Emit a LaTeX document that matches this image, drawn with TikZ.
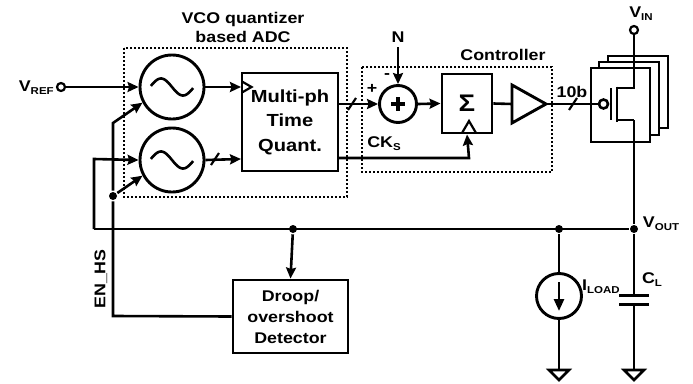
\documentclass[tikz,border=0pt]{standalone}
\usepackage{fontspec}
\setmainfont{Liberation Sans}[FakeStretch=1.15]
\usetikzlibrary{arrows.meta}
\newcommand{\fsz}[1]{\fontsize{#1}{#1}\selectfont}
\newcommand{\fszb}[2]{\fontsize{#1}{#2}\selectfont}
\newcommand{\lsb}[1]{\raisebox{-0.35ex}{\fontsize{10}{10}\selectfont #1}}
\begin{document}
\begin{tikzpicture}[x=1pt,y=-1pt, line width=2.6pt,
  arr/.style={-{Stealth[length=11pt,width=10pt,inset=1.5pt]}},
  lbl/.style={font=\bfseries\fsz{15.5}, inner sep=0},
  blk/.style={draw, line width=2.9pt, fill=white, inner sep=0, align=center},
  grp/.style={draw, line width=1.4pt, dash pattern=on 2pt off 2pt},
  dotn/.style={circle, fill, inner sep=0, minimum size=8pt},
  term/.style={circle, draw, fill=white, inner sep=0, minimum size=8pt, line width=2.2pt},
  vco/.style={circle, draw, inner sep=0, minimum size=64pt, line width=2.9pt},
  slash/.style={line width=2.2pt}]
\useasboundingbox (0,0) rectangle (693,383);

% group boxes
\draw[grp] (124,48) rectangle (347,197);
\draw[grp] (362,67) rectangle (552,172);
\node[lbl, align=center, font=\bfseries\fszb{15.5}{19}] (adct) at (243,27) {VCO quantizer\\based ADC};
\node[lbl] (ctrlt) at (503,55) {Controller};

% VCOs
\node[vco] (vco1) at (172,87) {};
\node[vco] (vco2) at (172,160) {};
\draw[line width=2.6pt] plot[domain=-0.48:0.48, samples=40, smooth] ({172+44*\x},{87+8.5*sin(360*\x)});
\draw[line width=2.6pt] plot[domain=-0.48:0.48, samples=40, smooth] ({172+44*\x},{160+8.5*sin(360*\x)});

% VREF
\node[term] (vref) at (61,87) {};
\node[lbl, anchor=east] (vreft) at (55,88) {V\lsb{REF}};
\draw[arr] (vref) -- (vco1.west);

% Multi-phase time quantizer
\node[blk, minimum width=96pt, minimum height=98pt, font=\bfseries\fszb{17.5}{24.5}] (mph) at (290,122) {Multi-ph\\Time\\Quant.};
\draw[line width=2.2pt] (242,81.5) -- (251.5,87) -- (242,92.5);
\coordinate (mphin1) at (241,87);
\coordinate (mphin2) at (241,159);
\draw[arr] (vco1.east) -- (mphin1);
\draw[arr] (vco2.east) -- (mphin2);
\draw[slash] (211,165) -- (219,153);

% switch control lines
\node[dotn] (jsw) at (113,196) {};
\coordinate (bend1) at (113,123);
\coordinate (en) at (113,316);
\draw[arr] (jsw) -- (bend1) -- (vco1.208);
\draw[arr] (jsw) -- (vco2.208);
\coordinate (lbus) at (94,229);
\coordinate (lup) at (94,159);
\draw[arr] (lbus) -- (lup) -- (vco2.west);

% adder
\node[circle, draw, inner sep=0, minimum size=37pt, line width=2.9pt] (add) at (398,104) {};
\draw[line width=3.2pt] (391,104) -- (405,104);
\draw[line width=3.2pt] (398,97) -- (398,111);
\coordinate (mphout1) at (338,104);
\draw[arr] (mphout1) -- (add.west);
\draw[slash] (348,110) -- (356,98);
\node[lbl] (plus) at (372,89) {+};
\node[lbl] (minus) at (387,76) {-};
\node[lbl] (nlab) at (398,37) {N};
\coordinate (ntop) at (398,47);
\draw[arr] (ntop) -- (add.north);

% integrator
\node[blk, minimum width=50pt, minimum height=59pt, font=\bfseries\fsz{24}] (sig) at (467,103.5) {Σ};
\draw[line width=2.2pt] (462,133) -- (469,121) -- (476,133);
\draw[arr] (add.east) -- (sig.west);
\coordinate (mphout2) at (338,158);
\coordinate (ckb) at (469,158);
\draw[arr] (mphout2) -- (ckb) -- (sig.south);
\node[lbl] (cks) at (384,144) {CK\lsb{S}};

% buffer
\coordinate (bufin) at (512,104);
\coordinate (bufout) at (546,104);
\draw[line width=2.9pt, line join=miter] (512,85) -- (bufout) -- (512,123) -- cycle;
\draw (sig.east) -- (bufin);

% power transistor array
\draw[line width=2.9pt, fill=white] (608,56) rectangle (668,128);
\draw[line width=2.9pt, fill=white] (599,62) rectangle (659,135);
\draw[line width=2.9pt, fill=white] (591,68) rectangle (650,142);
\node[circle, draw, inner sep=0, minimum size=9pt, line width=2.6pt] (bub) at (603.5,104) {};
\draw (bufout) -- (bub);
\draw[slash] (569,110) -- (577,98);
\node[lbl] (tenb) at (572,92) {10b};
\draw[line width=2.8pt] (611,88) -- (611,120);
\draw[line width=2.8pt] (617,86.5) -- (617,121.5);
\node[term] (vin) at (634,30) {};
\node[lbl] (vint) at (641,14) {V\lsb{IN}};
\coordinate (mtop) at (634,88);
\coordinate (mbot) at (634,120);
\draw (vin) -- (mtop) -- (617,88);
\draw (617,120) -- (mbot);

% output bus
\node[dotn] (dO) at (634,229) {};
\node[dotn] (dI) at (559,229) {};
\node[dotn] (dD) at (293,229) {};
\draw (mbot) -- (dO);
\draw (lbus) -- (dO);
\node[lbl] (voutt) at (661,224) {V\lsb{OUT}};

% detector
\node[blk, minimum width=115pt, minimum height=73pt, font=\bfseries\fszb{15.5}{21}] (det) at (290.5,316.5) {Droop/\\overshoot\\Detector};
\draw[arr] (dD) -- (det.north);
\draw (jsw) -- (en) -- (det.west);
\node[lbl, rotate=90] (enhs) at (101,279) {EN\_HS};

% load current source
\node[circle, draw, inner sep=0, minimum size=45pt, line width=2.9pt] (isrc) at (559,296) {};
\draw (dI) -- (isrc.north);
\coordinate (iat) at (559,282);
\coordinate (iab) at (559,311);
\draw[-{Stealth[length=12pt,width=10pt,inset=0pt]}] (iat) -- (iab);
\node[lbl] (iloadt) at (601,287) {I\lsb{LOAD}};
\coordinate (g1) at (559,370);
\draw (isrc.south) -- (g1);
\draw[line join=miter] (549,370) -- (569,370) -- (559,380) -- cycle;

% load capacitor
\coordinate (ctop) at (634,295);
\coordinate (cbot) at (634,304);
\coordinate (g2) at (634,370);
\draw (dO) -- (ctop);
\draw[line width=3pt] (619,295) -- (649,295);
\draw[line width=3pt] (619,304) -- (649,304);
\draw (cbot) -- (g2);
\draw[line join=miter] (624,370) -- (644,370) -- (634,380) -- cycle;
\node[lbl] (clt) at (652,280) {C\lsb{L}};
\end{tikzpicture}
\end{document}
